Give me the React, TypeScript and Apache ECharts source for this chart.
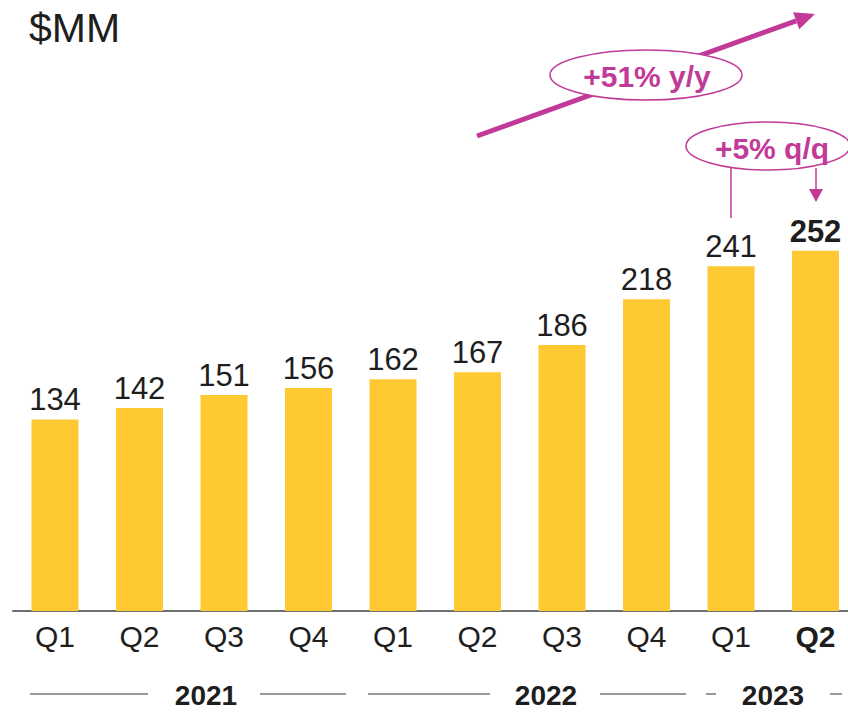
import React, { useEffect, useRef } from "react";
import * as echarts from "echarts";

const quarters = ["Q1", "Q2", "Q3", "Q4", "Q1", "Q2", "Q3", "Q4", "Q1", "Q2"];
const revenue = [134, 142, 151, 156, 162, 167, 186, 218, 241, 252];
const highlightIndex = 9;
const years = ["2021", "2022", "2023"];
const yoyText = "+51% y/y";
const qoqText = "+5% q/q";

const FONT = '"Liberation Sans", Arial, sans-serif';
const MAGENTA = "#C13A98";
const BAR = "#FFC933";
const TEXT = "#1e1e1e";

export default function App() {
  const ref = useRef<HTMLDivElement>(null);
  useEffect(() => {
    if (!ref.current) return;
    const chart = echarts.init(ref.current, null, { renderer: "svg" });

    const data = revenue.map((v, i) => ({
      value: v,
      label: i === highlightIndex ? { fontWeight: "bold" } : {},
    }));

    const yearLines: number[][] = [
      [30, 148],
      [260, 346],
      [368, 490],
      [600, 686],
      [706, 716],
      [830, 842],
    ];

    // big arrow geometry
    const ax1 = 477, ay1 = 136, ax2 = 815, ay2 = 14;
    const ang = Math.atan2(ay2 - ay1, ax2 - ax1);
    const headLen = 20, headW = 9;
    const bx = ax2 - headLen * Math.cos(ang);
    const by = ay2 - headLen * Math.sin(ang);
    const px = -Math.sin(ang), py = Math.cos(ang);

    const graphic: any[] = [
      {
        type: "text",
        left: 29,
        top: 7,
        style: { text: "$MM", font: `41px ${FONT}`, fill: TEXT },
      },
      ...yearLines.map(([a, b]) => ({
        type: "line",
        shape: { x1: a, y1: 694, x2: b, y2: 694 },
        style: { stroke: "#333", lineWidth: 1 },
      })),
      ...years.map((y, i) => ({
        type: "text",
        x: [206, 546, 773][i],
        y: 695,
        style: {
          text: y,
          font: `bold 28px ${FONT}`,
          fill: TEXT,
          align: "center",
          verticalAlign: "middle",
        },
      })),
      {
        type: "line",
        shape: { x1: ax1, y1: ay1, x2: bx, y2: by },
        style: { stroke: MAGENTA, lineWidth: 5 },
        z: 10,
      },
      {
        type: "polygon",
        shape: {
          points: [
            [ax2, ay2],
            [bx + px * headW, by + py * headW],
            [bx - px * headW, by - py * headW],
          ],
        },
        style: { fill: MAGENTA },
        z: 10,
      },
      {
        type: "ellipse",
        shape: { cx: 646, cy: 75, rx: 96, ry: 25 },
        style: { fill: "#fff", stroke: MAGENTA, lineWidth: 1.5 },
        z: 11,
      },
      {
        type: "text",
        x: 647,
        y: 76,
        style: {
          text: yoyText,
          font: `bold 30px ${FONT}`,
          fill: MAGENTA,
          align: "center",
          verticalAlign: "middle",
        },
        z: 12,
      },
      {
        type: "line",
        shape: { x1: 731, y1: 168, x2: 731, y2: 218 },
        style: { stroke: MAGENTA, lineWidth: 1.5 },
        z: 10,
      },
      {
        type: "line",
        shape: { x1: 816, y1: 168, x2: 816, y2: 190 },
        style: { stroke: MAGENTA, lineWidth: 1.5 },
        z: 10,
      },
      {
        type: "polygon",
        shape: { points: [[809, 189], [823, 189], [816, 202]] },
        style: { fill: MAGENTA },
        z: 10,
      },
      {
        type: "ellipse",
        shape: { cx: 768, cy: 146, rx: 82, ry: 24 },
        style: { fill: "#fff", stroke: MAGENTA, lineWidth: 1.5 },
        z: 11,
      },
      {
        type: "text",
        x: 772,
        y: 148,
        style: {
          text: qoqText,
          font: `bold 30px ${FONT}`,
          fill: MAGENTA,
          align: "center",
          verticalAlign: "middle",
        },
        z: 12,
      },
    ];

    chart.setOption({
      animation: false,
      grid: {
        left: 12.75,
        top: 182,
        width: 845,
        height: 429,
        outerBoundsMode: "none",
        containLabel: false,
      },
      xAxis: {
        type: "category",
        data: quarters,
        axisLine: { show: true, lineStyle: { color: "#404040", width: 1.5 } },
        axisTick: { show: false },
        axisLabel: {
          interval: 0,
          margin: 10,
          fontFamily: FONT,
          fontSize: 30,
          color: TEXT,
          formatter: (v: string, i: number) =>
            i === highlightIndex ? `{b|${v}}` : `{n|${v}}`,
          rich: {
            n: { fontFamily: FONT, fontSize: 30, color: TEXT },
            b: { fontFamily: FONT, fontSize: 30, color: TEXT, fontWeight: "bold" },
          },
        },
      },
      yAxis: {
        type: "value",
        min: 0,
        max: 300,
        show: false,
        splitLine: { show: false },
      },
      series: [
        {
          type: "bar",
          data,
          barWidth: 47,
          itemStyle: { color: BAR },
          label: {
            show: true,
            position: "top",
            distance: 4,
            fontFamily: FONT,
            fontSize: 31,
            color: TEXT,
          },
        },
      ],
      graphic,
    });

    return () => chart.dispose();
  }, []);

  return (
    <div
      ref={ref}
      style={{ position: "absolute", left: 0, top: 0, width: 848, height: 712 }}
    />
  );
}
